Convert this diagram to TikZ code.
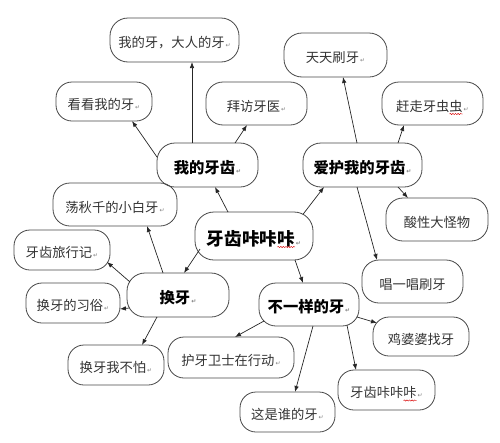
\documentclass[tikz,border=0pt]{standalone}
\usepackage{fontspec}
\setmainfont{Noto Sans CJK SC}
\newfontfamily\dvs{DejaVu Sans}
\usetikzlibrary{arrows.meta,decorations.pathmorphing}
\newcommand\pmark{\hspace{1pt}{\dvs\fontsize{6}{6}\selectfont\textcolor{black!50}{↵}}}
\tikzset{
  box/.style={draw=black!72, line width=0.8pt, rectangle, inner sep=0pt, text depth=0pt},
  leaf/.style={box, font=\fontsize{13.3}{14}\selectfont, text=black!80, text height=15.1pt},
  mainbox/.style={box, font=\fontsize{15.3}{16}\selectfont\bfseries, text=black, text height=16.6pt},
  centerbox/.style={box, font=\fontsize{17.6}{18}\selectfont\bfseries, text=black, text height=18.4pt},
  arr/.style={draw=black!85, line width=0.7pt, -{Latex[length=6pt,width=4.5pt]}},
  wave/.style={draw=red!85!black, line width=0.45pt, decorate, decoration={snake,amplitude=0.6pt,segment length=2.6pt}}
}
\begin{document}
\begin{tikzpicture}[x=1pt,y=-1pt]
\useasboundingbox (0,0) rectangle (500,442);
% nodes
\node[leaf,minimum width=129pt,minimum height=44pt,rounded corners=18pt] (n1) at (174.5,40) {我的牙，大人的牙\pmark};
\node[leaf,minimum width=96pt,minimum height=39pt,rounded corners=16pt] (n2) at (104,101.5) {看看我的牙\pmark};
\node[leaf,minimum width=101pt,minimum height=43pt,rounded corners=17pt] (n3) at (256.5,103.5) {拜访牙医\pmark};
\node[leaf,minimum width=103pt,minimum height=44pt,rounded corners=18pt] (n4) at (335.5,55) {天天刷牙\pmark};
\node[leaf,minimum width=101pt,minimum height=43pt,rounded corners=17pt] (n5) at (432.5,103.5) {赶走牙虫虫\pmark};
\node[mainbox,minimum width=101pt,minimum height=44pt,rounded corners=18pt] (m1) at (207.5,165) {我的牙齿\pmark};
\node[mainbox,minimum width=119pt,minimum height=44pt,rounded corners=18pt] (m2) at (362.5,165) {爱护我的牙齿\pmark};
\node[leaf,minimum width=102pt,minimum height=43pt,rounded corners=17pt] (n6) at (437,219.5) {酸性大怪物};
\node[leaf,minimum width=101pt,minimum height=43pt,rounded corners=17pt] (n7) at (412.5,281.5) {唱一唱刷牙};
\node[centerbox,minimum width=118pt,minimum height=48pt,rounded corners=19pt] (c) at (254,236) {牙齿咔咔咔\pmark};
\node[leaf,minimum width=124pt,minimum height=43pt,rounded corners=17pt] (n8) at (115,204.5) {荡秋千的小白牙\pmark};
\node[leaf,minimum width=96pt,minimum height=40pt,rounded corners=16pt] (n9) at (62,250) {牙齿旅行记\pmark};
\node[mainbox,minimum width=102pt,minimum height=44pt,rounded corners=18pt] (m3) at (178,295) {换牙\pmark};
\node[leaf,minimum width=94pt,minimum height=40pt,rounded corners=16pt] (n10) at (73,303) {换牙的习俗\pmark};
\node[leaf,minimum width=96pt,minimum height=40pt,rounded corners=16pt] (n11) at (116,365) {换牙我不怕\pmark};
\node[leaf,minimum width=126pt,minimum height=41pt,rounded corners=16pt] (n12) at (231,357.5) {护牙卫士在行动\pmark};
\node[mainbox,minimum width=100pt,minimum height=43pt,rounded corners=17pt] (m4) at (309,304.5) {不一样的牙\pmark};
\node[leaf,minimum width=96pt,minimum height=39pt,rounded corners=16pt] (n13) at (421,336.5) {鸡婆婆找牙};
\node[leaf,minimum width=97pt,minimum height=40pt,rounded corners=16pt] (n14) at (386.5,390) {牙齿咔咔咔\pmark};
\node[leaf,minimum width=95pt,minimum height=40pt,rounded corners=16pt] (n15) at (287.5,412) {这是谁的牙\pmark};
% spell-check wavy underlines
\draw[wave] ([shift={(17,10.5)}]n5.center) -- ++(13.3,0);
\draw[wave] ([shift={(23.4,11)}]c.center) -- ++(17.6,0);
\draw[wave] ([shift={(17,10.5)}]n14.center) -- ++(13.3,0);
% connectors
\draw[arr] ([shift={(-15.5,-22)}]m1.center) -- ([shift={(17.5,22)}]n1.center);
\draw[arr] ([shift={(-50.5,-8)}]m1.center) -- ([shift={(28,19.5)}]n2.center);
\draw[arr] ([shift={(27.5,-22)}]m1.center) -- ([shift={(-9.5,21.5)}]n3.center);
\draw[arr] ([shift={(-26,-24)}]c.center) -- ([shift={(7.5,22)}]m1.center);
\draw[arr] ([shift={(49,-21.7)}]c.center) -- ([shift={(-38.5,22)}]m2.center);
\draw[arr] ([shift={(-5.5,-22)}]m2.center) -- ([shift={(7.5,22)}]n4.center);
\draw[arr] ([shift={(35.5,-22)}]m2.center) -- ([shift={(-28.5,21.5)}]n5.center);
\draw[arr] ([shift={(35.5,22)}]m2.center) -- ([shift={(-29,-21.5)}]n6.center);
\draw[arr] ([shift={(-5.5,22)}]m2.center) -- ([shift={(-35.5,-21.5)}]n7.center);
\draw[arr] ([shift={(-54,13)}]c.center) -- ([shift={(6,-22)}]m3.center);
\draw[arr] ([shift={(-15,-22)}]m3.center) -- ([shift={(32,21.5)}]n8.center);
\draw[arr] ([shift={(-48,-13)}]m3.center) -- ([shift={(45,12)}]n9.center);
\draw[arr] ([shift={(-48.6,13)}]m3.center) -- ([shift={(46.9,6)}]n10.center);
\draw[arr] ([shift={(-21,22)}]m3.center) -- ([shift={(26,-20)}]n11.center);
\draw[arr] ([shift={(41,24)}]c.center) -- ([shift={(-6,-21.5)}]m4.center);
\draw[arr] ([shift={(-45,16.5)}]m4.center) -- ([shift={(4,-20.5)}]n12.center);
\draw[arr] ([shift={(48,12.5)}]m4.center) -- ([shift={(-44,-13.5)}]n13.center);
\draw[arr] ([shift={(4,21.5)}]m4.center) -- ([shift={(7.5,-20)}]n15.center);
\draw[arr] ([shift={(38,20.7)}]m4.center) -- ([shift={(-30.5,-20)}]n14.center);
\end{tikzpicture}
\end{document}
